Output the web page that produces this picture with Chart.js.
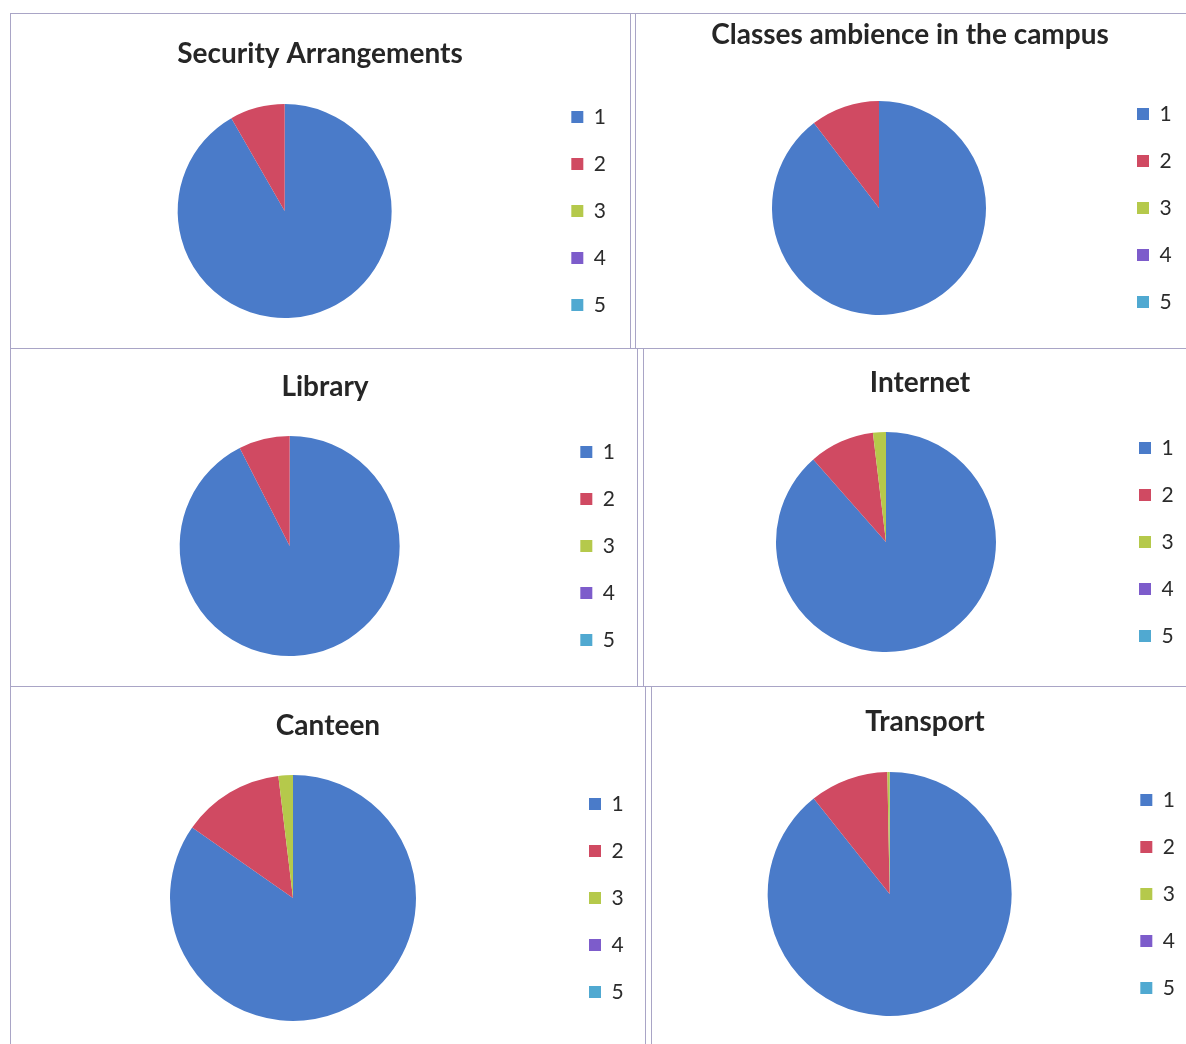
<!DOCTYPE html>
<html>
<head>
<meta charset="utf-8">
<script src="https://cdn.jsdelivr.net/npm/chart.js@4/dist/chart.umd.min.js"></script>
<style>
  body { margin: 0; background: #fff; width: 1186px; height: 1044px; overflow: hidden; position: relative; }
  canvas { position: absolute; }
  .ln { position: absolute; background: #a9a5c6; }
</style>
</head>
<body>
<!-- cell borders of the scanned sheet -->
<div class="ln" style="left:10px;top:13px;width:1176px;height:1px"></div>
<div class="ln" style="left:10px;top:13px;width:1px;height:1031px"></div>
<div class="ln" style="left:10px;top:348px;width:1176px;height:1px"></div>
<div class="ln" style="left:10px;top:686px;width:1176px;height:1px"></div>
<div class="ln" style="left:630px;top:13px;width:1px;height:335px"></div>
<div class="ln" style="left:635px;top:13px;width:1px;height:335px"></div>
<div class="ln" style="left:637px;top:348px;width:1px;height:338px"></div>
<div class="ln" style="left:643px;top:348px;width:1px;height:338px"></div>
<div class="ln" style="left:645px;top:686px;width:1px;height:358px"></div>
<div class="ln" style="left:651px;top:686px;width:1px;height:358px"></div>

<script>
// ---------- data (percent of responses) ----------
const categories = ['1', '2', '3', '4', '5'];
const chartTitles = ['Security Arrangements', 'Classes ambience in the campus', 'Library', 'Internet', 'Canteen', 'Transport'];
const securityValues = [91.7, 8.3, 0, 0, 0];
const classesValues = [89.6, 10.4, 0, 0, 0];
const libraryValues = [92.5, 7.5, 0, 0, 0];
const internetValues = [88.5, 9.6, 1.9, 0, 0];
const canteenValues = [84.7, 13.4, 1.9, 0, 0];
const transportValues = [89.3, 10.4, 0.3, 0, 0];
const allValues = [securityValues, classesValues, libraryValues, internetValues, canteenValues, transportValues];

const sliceColors = ['#4a7bc9', '#d04a62', '#b5c94b', '#7d5ccb', '#50a9d1'];

// where each pie sits on the page: pie centre, radius, legend box x, title centre
const placements = [
    {cx: 284, cy: 211, r: 107, lx: 570, tx: 320, ty: 54},
    {cx: 879, cy: 208, r: 107, lx: 1137, tx: 910, ty: 35},
    {cx: 288, cy: 546, r: 110, lx: 577, tx: 325, ty: 387},
    {cx: 886, cy: 542, r: 110, lx: 1139, tx: 920, ty: 383},
    {cx: 293, cy: 898, r: 123, lx: 589, tx: 328, ty: 726},
    {cx: 889, cy: 894, r: 122, lx: 1139, tx: 925, ty: 722}
];

const FONT = 'Lato, "Open Sans", sans-serif';
const titleSize = 28, legendSize = 21, legendPad = 26, halfArea = 135;

function createPie(idx) {
    const p = placements[idx];
    const legendW = 2 * (p.tx - p.cx);
    const left = 2 * p.cx - (p.lx - legendPad);
    const width = (p.lx - legendPad + legendW) - left;
    const top = p.ty - 20;
    const height = p.cy + halfArea - top;
    const lh = titleSize * 1.2;

    const canvas = document.createElement('canvas');
    canvas.width = width; canvas.height = height;
    canvas.style.left = left + 'px'; canvas.style.top = top + 'px';
    canvas.style.width = width + 'px'; canvas.style.height = height + 'px';
    document.body.appendChild(canvas);

    new Chart(canvas, {
        type: 'pie',
        data: {
            labels: categories,
            datasets: [{data: allValues[idx], backgroundColor: sliceColors, borderWidth: 0, radius: p.r}]
        },
        options: {
            responsive: false, animation: false, devicePixelRatio: 1,
            layout: {padding: 0},
            plugins: {
                tooltip: {enabled: false},
                title: {
                    display: true, text: chartTitles[idx], color: '#262626',
                    font: {family: FONT, size: titleSize, weight: 'bold'},
                    padding: {top: 20 - lh / 2, bottom: (p.cy - halfArea) - (p.ty + lh / 2)}
                },
                legend: {
                    position: 'right', fullSize: false, align: 'center', maxWidth: legendW,
                    labels: {
                        boxWidth: 12, boxHeight: 12, padding: legendPad, color: '#2b2b2b',
                        font: {family: FONT, size: legendSize}
                    }
                }
            }
        }
    });
}

for (let i = 0; i < chartTitles.length; i++) createPie(i);
</script>
</body>
</html>
